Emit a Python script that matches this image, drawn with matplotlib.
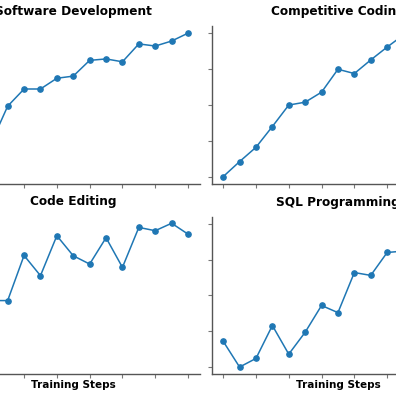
import numpy as np
import matplotlib
matplotlib.use("Agg")
import matplotlib.pyplot as plt

# normalised scores per training step (0..14)
steps = np.arange(15)
software_dev = [0.0, 0.15, 0.235, 0.49, 0.61, 0.61, 0.685, 0.70, 0.81, 0.82, 0.80, 0.925, 0.91, 0.945, 1.0]
competitive = [0.0, 0.105, 0.205, 0.35, 0.50, 0.52, 0.59, 0.75, 0.72, 0.815, 0.905, 0.99, 0.96, 1.0, 0.98]
code_editing = [0.0, 0.25, 0.46, 0.46, 0.775, 0.634, 0.913, 0.773, 0.715, 0.899, 0.692, 0.971, 0.948, 1.0, 0.924]
sql_prog = [0.18, 0.0, 0.06, 0.29, 0.09, 0.243, 0.43, 0.38, 0.66, 0.64, 0.80, 0.81, 0.86, 0.93, 1.0]

titles = ["Software Development", "Competitive Coding", "Code Editing", "SQL Programming"]
series = [software_dev, competitive, code_editing, sql_prog]

fig = plt.figure(figsize=(3.96, 3.96), dpi=100)
W = 396.0
w = 252.5 / W
h = 157.5 / W
boxes = [(-53 / W, 1 - 183.5 / W), (211.7 / W, 1 - 183.8 / W),
         (-53 / W, 1 - 373.6 / W), (211.7 / W, 1 - 374.2 / W)]

for i, (x0, y0) in enumerate(boxes):
    ax = fig.add_axes([x0, y0, w, h])
    ax.plot(steps, series[i], color="#1f77b4", marker="o", markersize=3.8, linewidth=1.1)
    ax.set_title(titles[i], fontsize=8.7, fontweight="bold", pad=8)
    ax.set_xticks(steps[::2])
    ax.set_yticks([0, 0.25, 0.5, 0.75, 1.0])
    ax.set_xticklabels([])
    ax.set_yticklabels([])
    ax.set_ylim(-0.05, 1.05)
    ax.set_xlim(-0.7, 14.7)
    ax.spines["top"].set_visible(False)
    ax.spines["right"].set_visible(False)
    for s in ["left", "bottom"]:
        ax.spines[s].set_color("#555555")
        ax.spines[s].set_linewidth(1.0)
    ax.tick_params(colors="#777777", length=3, width=0.8)
    if i >= 2:
        ax.set_xlabel("Training Steps", fontsize=7.5, fontweight="bold", labelpad=-2)

fig.savefig("out.png", dpi=100)
